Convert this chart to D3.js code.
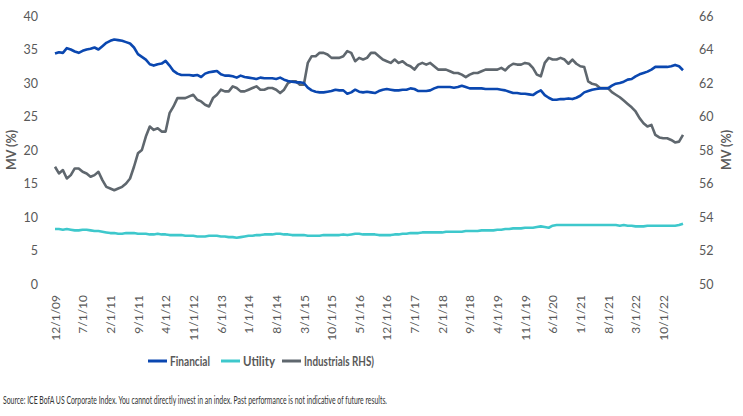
<!DOCTYPE html>
<html>
<head>
<meta charset="utf-8">
<script src="https://cdn.jsdelivr.net/npm/d3@7"></script>
<style>
  html, body { margin: 0; padding: 0; background: #fff; }
  svg { display: block; }
  text { font-family: "Source Sans Pro", Lato, "Liberation Sans", sans-serif; }
</style>
</head>
<body>
<svg id="chart" width="743" height="416"></svg>
<script>
// ---- data (monthly, Dec 2009 .. Mar 2023) ----
const startMonth = new Date(2009, 11, 1);
const endMonth = new Date(2023, 2, 1);

const financial = [
  34.4,34.6,34.5,35.2,35.0,34.7,34.5,34.8,35.0,35.1,
  35.3,35.0,35.5,36.0,36.3,36.5,36.4,36.3,36.1,35.9,
  35.3,34.3,33.9,33.5,32.8,32.6,32.8,32.9,33.3,32.6,
  31.8,31.4,31.2,31.2,31.2,31.1,31.2,30.9,31.4,31.6,
  31.7,31.8,31.3,31.1,31.1,31.0,30.8,31.1,30.9,30.8,
  30.7,30.6,30.8,30.7,30.7,30.7,30.6,30.8,30.5,30.3,
  30.2,30.1,30.1,30.0,29.3,28.9,28.7,28.6,28.6,28.7,
  28.8,29.0,28.9,28.9,28.4,28.6,29.0,28.7,28.6,28.7,
  28.6,28.5,28.8,29.0,29.1,29.0,28.9,28.9,29.0,29.0,
  29.2,29.1,28.8,28.8,28.8,28.9,29.2,29.4,29.4,29.4,
  29.4,29.3,29.4,29.6,29.4,29.2,29.2,29.2,29.2,29.1,
  29.1,29.1,29.1,29.0,28.9,28.7,28.5,28.5,28.4,28.4,
  28.3,28.2,28.6,28.9,28.2,27.8,27.5,27.5,27.6,27.6,
  27.7,27.6,27.8,28.1,28.6,28.8,29.0,29.1,29.2,29.2,
  29.2,29.6,29.9,30.0,30.2,30.5,30.6,31.0,31.3,31.5,
  31.7,32.0,32.4,32.4,32.4,32.4,32.5,32.7,32.5,31.9
];

const utility = [
  8.2,8.2,8.1,8.2,8.1,8.0,8.0,8.1,8.1,8.0,
  7.9,7.9,7.8,7.7,7.6,7.6,7.5,7.5,7.6,7.6,
  7.6,7.5,7.5,7.5,7.4,7.4,7.5,7.4,7.4,7.3,
  7.3,7.3,7.3,7.2,7.2,7.2,7.1,7.1,7.1,7.2,
  7.2,7.2,7.1,7.1,7.0,7.0,6.9,7.0,7.1,7.2,
  7.2,7.3,7.3,7.4,7.4,7.4,7.5,7.5,7.4,7.4,
  7.3,7.3,7.3,7.3,7.2,7.2,7.2,7.2,7.3,7.3,
  7.3,7.3,7.3,7.4,7.3,7.4,7.5,7.5,7.4,7.4,
  7.4,7.4,7.3,7.3,7.3,7.3,7.4,7.4,7.5,7.5,
  7.6,7.6,7.6,7.7,7.7,7.7,7.7,7.7,7.7,7.8,
  7.8,7.8,7.8,7.8,7.9,7.9,7.9,7.9,8.0,8.0,
  8.0,8.0,8.1,8.1,8.2,8.2,8.3,8.3,8.3,8.4,
  8.4,8.4,8.5,8.6,8.5,8.4,8.7,8.8,8.8,8.8,
  8.8,8.8,8.8,8.8,8.8,8.8,8.8,8.8,8.8,8.8,
  8.8,8.8,8.8,8.7,8.8,8.7,8.7,8.6,8.6,8.6,
  8.7,8.7,8.7,8.7,8.7,8.7,8.7,8.7,8.8,9.0
];

const industrialsRHS = [
  57.0,56.6,56.8,56.3,56.5,56.9,56.9,56.7,56.6,56.4,
  56.5,56.7,56.2,55.8,55.7,55.6,55.7,55.8,56.0,56.3,
  57.0,57.8,58.0,58.8,59.4,59.2,59.3,59.1,59.1,60.2,
  60.6,61.1,61.1,61.1,61.2,61.3,61.0,60.9,60.7,60.6,
  61.1,61.3,61.6,61.5,61.5,61.8,61.7,61.5,61.5,61.6,
  61.7,61.8,61.6,61.6,61.7,61.7,61.6,61.4,61.6,62.0,
  62.1,62.1,61.9,61.9,63.2,63.6,63.6,63.8,63.8,63.7,
  63.5,63.5,63.5,63.6,63.9,63.8,63.3,63.5,63.4,63.5,
  63.8,63.8,63.6,63.4,63.3,63.2,63.4,63.2,63.3,63.1,
  63.0,62.8,63.1,63.2,63.1,63.2,63.0,62.8,62.8,62.8,
  62.7,62.6,62.6,62.5,62.35,62.5,62.6,62.6,62.7,62.8,
  62.8,62.8,62.8,62.9,62.75,63.0,63.15,63.1,63.1,63.2,
  63.15,62.9,62.5,62.4,63.2,63.5,63.4,63.4,63.5,63.4,
  63.15,63.4,63.15,63.0,62.95,62.1,61.95,61.9,61.7,61.7,
  61.7,61.45,61.3,61.15,60.95,60.75,60.55,60.3,59.9,59.6,
  59.4,59.5,58.9,58.75,58.7,58.7,58.6,58.45,58.5,58.9
];

const xTickLabels = ["12/1/09","7/1/10","2/1/11","9/1/11","4/1/12","11/1/12","6/1/13",
  "1/1/14","8/1/14","3/1/15","10/1/15","5/1/16","12/1/16","7/1/17","2/1/18","9/1/18",
  "4/1/19","11/1/19","6/1/20","1/1/21","8/1/21","3/1/22","10/1/22"];
const leftTicks = [0,5,10,15,20,25,30,35,40];
const rightTicks = [50,52,54,56,58,60,62,64,66];

const seriesNames = ["Financial", "Utility", "Industrials RHS)"];
const seriesColors = ["#0a47b0", "#3ec8cc", "#5f676e"];

// ---- build ----
const months = d3.timeMonth.range(startMonth, d3.timeMonth.offset(endMonth, 1));
const fmt = d => (d.getMonth() + 1) + "/" + d.getDate() + "/" + String(d.getFullYear()).slice(2);
const cats = months.map(fmt);

const svg = d3.select("#chart");
const plotL = 55, plotR = 683, plotT = 16, plotB = 284;

const x = d3.scalePoint().domain(cats).range([plotL, plotR]);
const yL = d3.scaleLinear().domain([0, 40]).range([plotB, plotT]);
const yR = d3.scaleLinear().domain([50, 66]).range([plotB, plotT]);

const tickColor = "#595959";

// left axis
const gL = svg.append("g").attr("transform", `translate(${plotL - 14},0)`)
  .call(d3.axisLeft(yL).tickValues(leftTicks).tickSize(0).tickPadding(3));
gL.select(".domain").remove();
gL.selectAll("text").attr("fill", tickColor).style("font-size", "12.5px");

// right axis
const gR = svg.append("g").attr("transform", `translate(${plotR + 13},0)`)
  .call(d3.axisRight(yR).tickValues(rightTicks).tickSize(0).tickPadding(3));
gR.select(".domain").remove();
gR.selectAll("text").attr("fill", tickColor).style("font-size", "12.5px");

// bottom axis
const gB = svg.append("g").attr("transform", `translate(0,${plotB + 8})`)
  .call(d3.axisBottom(x).tickValues(xTickLabels).tickSize(0).tickPadding(0));
gB.select(".domain").remove();
gB.selectAll("text")
  .attr("fill", tickColor).style("font-size", "12px")
  .attr("transform", "rotate(-90)")
  .attr("text-anchor", "end")
  .attr("x", -3).attr("y", 0).attr("dy", "0.35em");

// axis titles
svg.append("text").attr("transform", "translate(16,150) rotate(-90)")
  .attr("text-anchor", "middle").attr("fill", tickColor)
  .style("font-size", "12.5px").style("font-weight", "bold").text("MV (%)");
svg.append("text").attr("transform", "translate(731,150) rotate(-90)")
  .attr("text-anchor", "middle").attr("fill", tickColor)
  .style("font-size", "12.5px").style("font-weight", "bold").text("MV (%)");

// lines
const lineL = d3.line().x((d, i) => x(cats[i])).y(d => yL(d));
const lineR = d3.line().x((d, i) => x(cats[i])).y(d => yR(d));

svg.append("path").datum(utility).attr("d", lineL)
  .attr("fill", "none").attr("stroke", seriesColors[1]).attr("stroke-width", 2.6).attr("stroke-linejoin", "round");
svg.append("path").datum(industrialsRHS).attr("d", lineR)
  .attr("fill", "none").attr("stroke", seriesColors[2]).attr("stroke-width", 2.6).attr("stroke-linejoin", "round");
svg.append("path").datum(financial).attr("d", lineL)
  .attr("fill", "none").attr("stroke", seriesColors[0]).attr("stroke-width", 2.6).attr("stroke-linejoin", "round");

// legend
const legendX = [148, 221, 282];
const legendW = [40, 32, 70];
const lg = svg.append("g");
seriesNames.forEach((name, i) => {
  lg.append("line").attr("x1", legendX[i]).attr("x2", legendX[i] + 19)
    .attr("y1", 361).attr("y2", 361).attr("stroke", seriesColors[i]).attr("stroke-width", 3);
  lg.append("text").attr("x", legendX[i] + 22).attr("y", 366)
    .attr("fill", tickColor).style("font-size", "14px").style("font-weight", "bold")
    .attr("textLength", legendW[i]).attr("lengthAdjust", "spacingAndGlyphs")
    .text(name);
});

// source
svg.append("text").attr("x", 3).attr("y", 404).attr("fill", "#333")
  .style("font-size", "11px")
  .attr("textLength", 384).attr("lengthAdjust", "spacingAndGlyphs")
  .text("Source: ICE BofA US Corporate Index. You cannot directly invest in an index. Past performance is not indicative of future results.");
</script>
</body>
</html>
